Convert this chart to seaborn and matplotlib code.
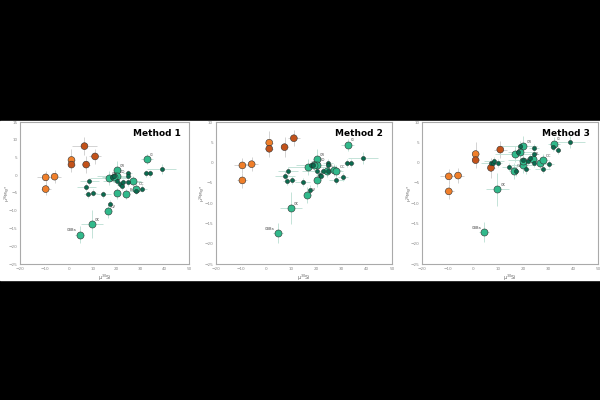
import numpy as np
import pandas as pd
import matplotlib
matplotlib.use("Agg")
import matplotlib.pyplot as plt
from matplotlib.patches import Rectangle
import seaborn as sns

methods = ["Method 1", "Method 2", "Method 3"]
ylims = [(-25, 15), (-25, 10), (-25, 10)]

# orange points (light = first four, dark = last four)
orange_x = [-9.5, -5.8, -9.5, 1.2, 1.2, 7.3, 6.6, 11.0]
orange_kind = ["light", "light", "light", "light", "dark", "dark", "dark", "dark"]
orange_y = {
    "Method 1": [-0.6, -0.4, -3.9, 4.3, 3.0, 3.0, 8.2, 5.3],
    "Method 2": [-0.7, -0.4, -4.4, 4.9, 3.4, 3.8, np.nan, 6.0],
    "Method 3": [-3.4, -3.2, -7.1, 2.1, 0.6, -1.3, np.nan, 3.2],
}
orange_xerr = [3.5, 2.5, 2.0, 1.5, 1.5, 1.5, 5.0, 2.5]
orange_yerr = [1.8, 1.8, 1.8, 3.0, 2.0, 2.5, 2.5, 2.0]

# large labelled green points
big_x = [4.6, 9.8, 16.4, 16.8, 20.2, 20.2, 20.2, 24.0, 26.9, 27.9, 32.4, 19.0]
big_labels = ["CBBa", "CK", "CV", "CM", "CR", "CO", "", "EL", "", "OC", "CI", ""]
big_y = {
    "Method 1": [-16.7, -13.7, -10.0, -0.75, 1.4, -0.3, -5.1, -5.3, -1.7, -3.75, 4.6, -0.5],
    "Method 2": [-17.4, -11.2, -7.9, -1.1, 0.8, -0.5, -4.4, -2.0, -1.9, -2.1, 4.4, -0.7],
    "Method 3": [-17.2, -6.6, -2.0, 2.2, 4.0, -0.5, 0.3, 1.0, -0.2, 0.6, 4.7, 2.5],
}
big_xerr = [2.0, 4.5, 1.5, 8.0, 1.5, 5.0, 1.0, 1.5, 3.0, 2.0, 2.5, 5.0]
big_yerr = [2.5, 4.0, 2.0, 2.0, 2.5, 2.0, 1.5, 1.5, 1.5, 1.5, 1.5, 1.5]

# small dark green points
small_x = [7.3, 8.1, 8.6, 10.2, 14.5, 17.4, 18.0, 18.8, 20.2, 21.4,
           22.0, 22.7, 24.5, 24.5, 24.5, 27.9, 30.4, 32.0, 33.8, 38.6]
small_y = {
    "Method 1": [-3.3, -5.3, -1.7, -4.9, -5.3, -8.1, -0.6, -0.3, -1.7, -2.6,
                 -3.1, -2.0, 0.5, -0.3, -2.0, -4.3, -3.75, 0.5, 0.5, 1.8],
    "Method 2": [-3.2, -4.5, -2.0, -4.3, -4.7, -6.8, -0.5, -0.7, -2.0, -3.0,
                 -3.2, -2.1, -0.1, -0.5, -2.1, -4.2, -3.5, 0.0, 0.0, 1.1],
    "Method 3": [-0.2, -0.2, 0.4, -0.1, -1.2, -2.0, 2.7, 4.2, 0.7, -1.7,
                 0.4, 1.2, 3.7, 2.2, 0.0, -1.6, -0.4, 3.9, 3.2, 5.0],
}
small_xerr = [4.0, 1.5, 4.0, 1.5, 3.0, 1.0, 3.0, 7.0, 6.0, 1.5,
              1.0, 1.5, 2.0, 1.5, 6.0, 3.0, 2.0, 1.0, 1.0, 6.0]
small_yerr = [1.0, 1.0, 1.0, 1.0, 1.0, 1.2, 1.0, 1.0, 1.0, 1.0,
              1.0, 1.0, 1.0, 1.0, 1.0, 1.0, 1.0, 1.0, 1.0, 1.5]

colors = {"light": "#f07f2a", "dark": "#c2521a"}
big_color = "#31b98b"
small_color = "#0b6b4f"

sns.set_style("white")
fig = plt.figure(figsize=(6, 4), dpi=100, facecolor="black")
fig.add_artist(Rectangle((0, 0.30), 1, 0.3975, transform=fig.transFigure,
                         color="white", zorder=-1))

boxes = [(0.034, 0.281), (0.36, 0.293), (0.704, 0.293)]
for (left, width), m, yl in zip(boxes, methods, ylims):
    ax = fig.add_axes([left, 0.34, width, 0.355])
    ax.set_facecolor("white")

    odf = pd.DataFrame({"x": orange_x, "y": orange_y[m], "kind": orange_kind})
    bdf = pd.DataFrame({"x": big_x, "y": big_y[m], "label": big_labels})
    sdf = pd.DataFrame({"x": small_x, "y": small_y[m]})

    ax.errorbar(odf["x"], odf["y"], xerr=orange_xerr, yerr=orange_yerr, fmt="none",
                ecolor="#d3d3d3", elinewidth=0.7, zorder=1)
    ax.errorbar(bdf["x"], bdf["y"], xerr=big_xerr, yerr=big_yerr, fmt="none",
                ecolor="#c4e3d8", elinewidth=0.7, zorder=1)
    ax.errorbar(sdf["x"], sdf["y"], xerr=small_xerr, yerr=small_yerr, fmt="none",
                ecolor="#c4e3d8", elinewidth=0.7, zorder=1)

    sns.scatterplot(data=odf, x="x", y="y", hue="kind", palette=colors, s=24,
                    edgecolor="#333333", linewidth=0.4, legend=False, ax=ax, zorder=3)
    sns.scatterplot(data=bdf, x="x", y="y", color=big_color, s=26,
                    edgecolor="#333333", linewidth=0.4, legend=False, ax=ax, zorder=3)
    sns.scatterplot(data=sdf, x="x", y="y", color=small_color, s=9,
                    edgecolor="#222222", linewidth=0.3, legend=False, ax=ax, zorder=4)

    for _, r in bdf.iterrows():
        if r["label"]:
            if r["label"] == "CBBa":
                ax.text(r["x"] - 1.2, r["y"] + 0.6, r["label"], fontsize=2.6,
                        color="#444444", ha="right", va="bottom")
            else:
                ax.text(r["x"] + 1.2, r["y"] + 0.6, r["label"], fontsize=2.6,
                        color="#444444", ha="left", va="bottom")

    ax.set_xlim(-20, 50)
    ax.set_ylim(*yl)
    ax.set_xticks(np.arange(-20, 51, 10))
    ax.set_yticks(np.arange(yl[0], yl[1] + 1, 5))
    ax.tick_params(labelsize=3, colors="#888888", length=1.2, width=0.5, pad=1)
    for sp in ax.spines.values():
        sp.set_color("#aaaaaa")
        sp.set_linewidth(0.8)
    ax.set_xlabel("μ$^{30}$Si", fontsize=3.5, color="#666666", labelpad=1)
    ax.set_ylabel("μ$^{26}$Mg*", fontsize=3.2, color="#666666")
    ax.yaxis.label.set_va("center")
    ax.yaxis.set_label_coords(-13.0 / (width * 600), 0.5)
    ax.text(0.95, 0.95, m, transform=ax.transAxes, ha="right", va="top",
            fontsize=6.5, fontweight="bold", color="black")

fig.savefig("out.png", dpi=100, facecolor="black")
